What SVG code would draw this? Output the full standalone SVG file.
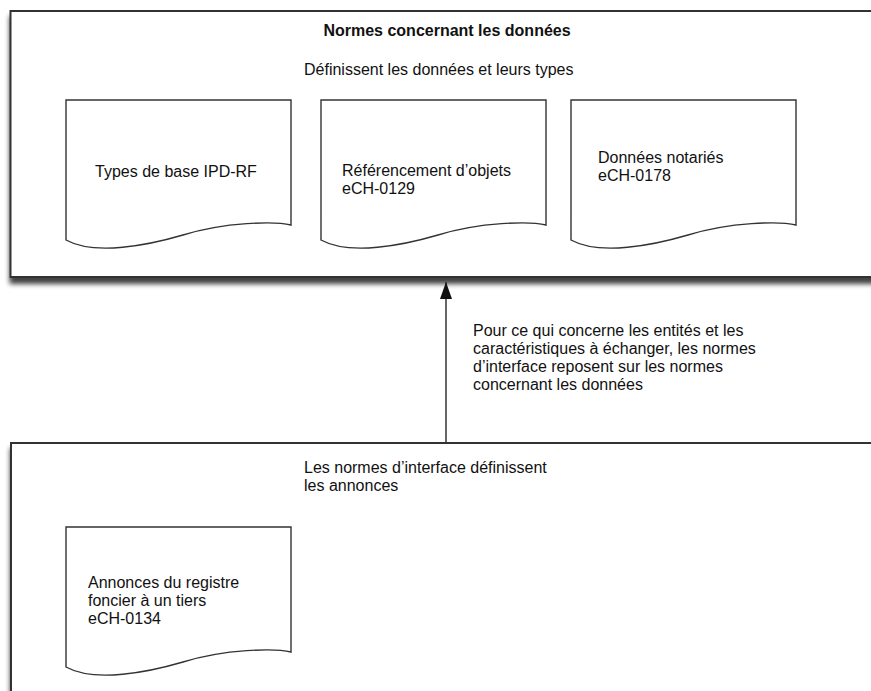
<svg xmlns="http://www.w3.org/2000/svg" xmlns:xlink="http://www.w3.org/1999/xlink" width="871" height="691" viewBox="0 0 871 691">
<style>
.t{font-family:"Liberation Sans",Arial,sans-serif;font-size:16px;fill:#111;}
.b{font-weight:bold;}
.box{fill:#fff;stroke:#333;stroke-width:2;filter:url(#sh);}
.doc{fill:#fff;stroke:#333;stroke-width:1.4;}
.con{stroke:#333;stroke-width:1.5;fill:none;}
</style>
<defs>
<filter id="sh" x="-5%" y="-5%" width="110%" height="115%">
<feGaussianBlur in="SourceAlpha" stdDeviation="2.5"/>
<feOffset dx="0" dy="6" result="o"/>
<feComponentTransfer><feFuncA type="linear" slope="0.75"/></feComponentTransfer>
<feMerge><feMergeNode/><feMergeNode in="SourceGraphic"/></feMerge>
</filter>
<path id="docshape" d="M0,0 H225 V125 C209,121 159,122 117,135 C83,145 29,156 0,140 Z"/>
<marker id="ah" viewBox="0 0 17 12" refX="17" refY="6" markerWidth="17" markerHeight="12" markerUnits="userSpaceOnUse" orient="auto">
<path d="M0,0 L17,6 L0,12 Z" fill="#111"/>
</marker>
</defs>
<rect width="871" height="691" fill="#fff"/>

<g id="data-norms">
<rect class="box" x="10.5" y="11" width="890" height="266"/>
<text class="t b" x="447" y="36" text-anchor="middle">Normes concernant les données</text>
<text class="t" x="304" y="75">Définissent les données et leurs types</text>
</g>

<g id="doc-ipd">
<use href="#docshape" class="doc" x="66" y="100"/>
<text class="t" x="95" y="177">Types de base IPD-RF</text>
</g>

<g id="doc-0129">
<use href="#docshape" class="doc" x="321" y="100"/>
<text class="t" x="342" y="176">Référencement d’objets</text>
<text class="t" x="342" y="194">eCH-0129</text>
</g>

<g id="doc-0178">
<use href="#docshape" class="doc" x="571" y="100"/>
<text class="t" x="598" y="163">Données notariés</text>
<text class="t" x="598" y="181">eCH-0178</text>
</g>

<g id="interface-norms">
<rect class="box" x="11" y="443" width="890" height="300"/>
<text class="t" x="304" y="473">Les normes d’interface définissent</text>
<text class="t" x="304" y="491">les annonces</text>
</g>

<g id="doc-0134">
<use href="#docshape" class="doc" x="66" y="527"/>
<text class="t" x="88" y="588">Annonces du registre</text>
<text class="t" x="88" y="606">foncier à un tiers</text>
<text class="t" x="88" y="624">eCH-0134</text>
</g>

<g id="connectors">
<line class="con" x1="446" y1="443" x2="446" y2="282" marker-end="url(#ah)"/>
<text class="t" x="473" y="336">Pour ce qui concerne les entités et les</text>
<text class="t" x="473" y="354">caractéristiques à échanger, les normes</text>
<text class="t" x="473" y="372">d’interface reposent sur les normes</text>
<text class="t" x="473" y="390">concernant les données</text>
</g>
</svg>
